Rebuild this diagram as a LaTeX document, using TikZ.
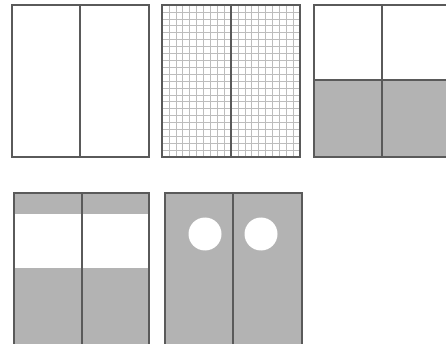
\documentclass[tikz,border=0pt]{standalone}
\usepackage{tikz}
\definecolor{frame}{HTML}{5A5A5A}
\definecolor{panelgrey}{HTML}{B3B3B3}
\definecolor{gridgrey}{HTML}{BDBDBD}
\tikzset{
  panel/.style={draw=frame,line width=1.1pt},
  divider/.style={draw=frame,line width=1.1pt},
  shade/.style={fill=panelgrey},
  gridline/.style={draw=gridgrey,line width=0.5pt},
  hole/.style={fill=white},
}
\begin{document}
\begin{tikzpicture}[x=1pt,y=-1pt]
  \useasboundingbox (0,0) rectangle (446,344);
  \clip (0,0) rectangle (446,344);
  \fill[white] (0,0) rectangle (446,344);
  % plain
  \draw[panel] (12,5) rectangle (149,157);
  \draw[divider] (80,5) -- (80,157);
  % grid
  \foreach \i in {1,...,19} \draw[gridline] ({162+\i*6.9},5) -- ({162+\i*6.9},157);
  \foreach \j in {1,...,21} \draw[gridline] (162,{5+\j*6.91}) -- (300,{5+\j*6.91});
  \draw[panel] (162,5) rectangle (300,157);
  \draw[divider] (231,5) -- (231,157);
  % half shaded
  \fill[shade] (314,80) rectangle (450,157);
  \draw[panel] (314,5) rectangle (450,157);
  \draw[divider] (314,80) -- (450,80);
  \draw[divider] (382,5) -- (382,157);
  % band
  \fill[shade] (14,193) rectangle (149,214);
  \fill[shade] (14,268) rectangle (149,350);
  \draw[panel] (14,193) rectangle (149,350);
  \draw[divider] (82,193) -- (82,350);
  % holes
  \fill[shade] (165,193) rectangle (302,350);
  \fill[hole] (205,234) circle (16.5);
  \fill[hole] (261,234) circle (16.5);
  \draw[panel] (165,193) rectangle (302,350);
  \draw[divider] (233,193) -- (233,350);
\end{tikzpicture}
\end{document}
